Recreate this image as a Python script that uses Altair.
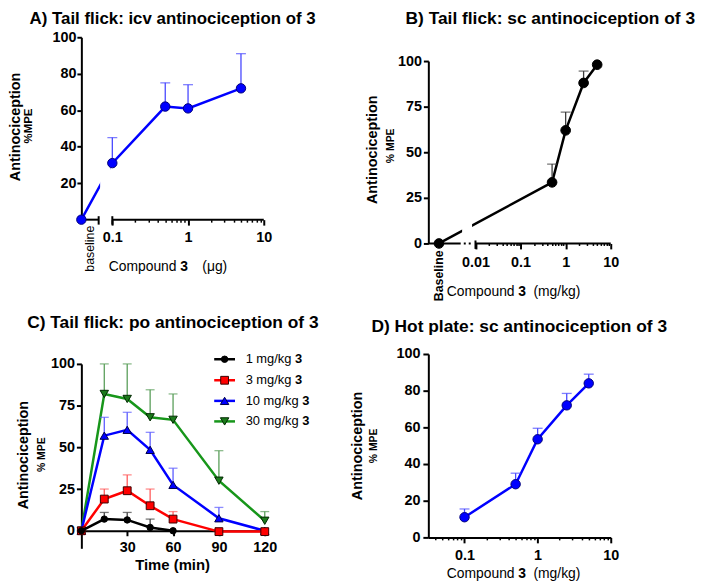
import math
import altair as alt
import pandas as pd

FONT = "Liberation Sans"

# ---------------- data ----------------
# A) Tail flick, icv (dose in µg; None = baseline)
A_DOSE = [None, 0.1, 0.5, 1, 5]
A_MEAN = [0, 31, 62, 61, 72]
A_SEM = [0, 14, 13, 13, 19]

# B) Tail flick, sc (dose in mg/kg; None = baseline)
B_DOSE = [None, 0.5, 1, 2.5, 5]
B_MEAN = [0, 33.5, 62, 88, 98]
B_SEM = [0, 10, 10, 6.5, 0]

# C) Tail flick, po, time course (min)
C_TIME = [0, 15, 30, 45, 60, 90, 120]
C_SERIES = ["1 mg/kg", "3 mg/kg", "10 mg/kg", "30 mg/kg"]
C_MEAN_1 = [0, 7, 6.5, 2, 0, None, None]
C_SEM_1 = [0, 4, 4.5, 5, 0, None, None]
C_MEAN_3 = [0, 19, 24, 15, 7, -0.5, -0.5]
C_SEM_3 = [0, 6, 9.5, 10, 4.5, 0, 0]
C_MEAN_10 = [0, 57, 60.5, 48.5, 27.5, 7.5, 0]
C_SEM_10 = [0, 11, 10.5, 10.5, 10, 6.5, 0]
C_MEAN_30 = [0, 82, 79, 68, 66.5, 30, 6]
C_SEM_30 = [0, 18, 21, 16.5, 15.5, 18, 5.5]

# D) Hot plate, sc (mg/kg)
D_DOSE = [0.1, 0.5, 1, 2.5, 5]
D_MEAN = [11, 29, 53.5, 72, 84]
D_SEM = [4.5, 6, 6, 6.5, 5]

# axis tick values / labels
A_Y_TICKS = [20, 40, 60, 80, 100]
B_Y_TICKS = [0, 25, 50, 75, 100]
C_Y_TICKS = [0, 25, 50, 75, 100]
D_Y_TICKS = [0, 20, 40, 60, 80, 100]
A_X_LABELS = [0.1, 1, 10]
B_X_LABELS = [0.01, 0.1, 1, 10]
C_X_TICKS = [30, 60, 90, 120]
D_X_LABELS = [0.1, 1, 10]

# ---------------- layout / style constants ----------------
W = 184
A_H = 184
B_H, B_TOP = 208, 24
C_W, C_H, C_TOP = 185, 196, 10
D_H = 185
ROW_GAP, COL_GAP = 111.5, 165
TOP_PAD = 26.5           # room above row 1 for the panel titles

A_XMIN, A_BREAK, A_GAP = 0.039, 0.066, (0.069, 0.095)
B_XMIN, B_BASE, B_SOLID_END, B_DOTS, B_GAP = 0.0009, 0.00155, 0.0047, (0.0055, 0.0080), (0.00505, 0.0084)
C_YMIN = -10.5
D_XMIN = 0.032

BLUE, NAVY, EB_BLUE = "#0000ff", "#00007a", "#4848ff"

C_STYLE = {
    "1 mg/kg": dict(line="#000000", eb="#404040", fill="#000000", stroke="#000000", shape="circle", size=42),
    "3 mg/kg": dict(line="#ff0000", eb="#ff5c5c", fill="#ff0000", stroke="#3a0000", shape="square", size=62),
    "10 mg/kg": dict(line="#0000ff", eb="#5c5cff", fill="#0000ff", stroke="#00004a", shape="triangle-up", size=72),
    "30 mg/kg": dict(line="#17961a", eb="#5a9e5a", fill="#1b7a1b", stroke="#002800", shape="triangle-down", size=72),
}
C_MEANS = {"1 mg/kg": C_MEAN_1, "3 mg/kg": C_MEAN_3, "10 mg/kg": C_MEAN_10, "30 mg/kg": C_MEAN_30}
C_SEMS = {"1 mg/kg": C_SEM_1, "3 mg/kg": C_SEM_3, "10 mg/kg": C_SEM_10, "30 mg/kg": C_SEM_30}
LEGEND_Y = [5.3, 26.5, 47.3, 68]

ONE = pd.DataFrame({"k": [0]})
ARIAL = {"0": .556, "1": .556, "2": .556, "3": .556, " ": .278, "m": .833, "g": .556, "/": .278, "k": .5}


def text_w(s, size):
    return sum(ARIAL.get(c, 0.55) for c in s) * size


def txt(s, x, y, size, bold=False, angle=0, align="center", baseline="middle"):
    return alt.Chart(ONE).mark_text(
        text=s, font=FONT, fontSize=size, fontWeight="bold" if bold else "normal",
        angle=angle, align=align, baseline=baseline, color="black",
    ).encode(x=alt.value(x), y=alt.value(y))


def decade_ticks(e0, e1):
    vals = []
    for e in range(e0, e1):
        for m in range(1, 10):
            vals.append(round(m * 10.0 ** e, 8))
    vals.append(round(10.0 ** e1, 8))
    return vals


def y_axis(values, tick=5, pad=2):
    return alt.Axis(values=values, domain=True, domainColor="black", domainWidth=2,
                    ticks=True, tickColor="black", tickWidth=2, tickSize=tick,
                    labelFont=FONT, labelFontSize=14.5, labelFontWeight="bold", labelColor="black",
                    labelPadding=pad, labelOverlap=False, grid=False, title=None)


def x_log_axis(values, majors, pad, show_domain=True, major=5.5, minor=2.5):
    expr = " : ".join(f"datum.value == {v} ? '{v:g}'" for v in majors) + " : ''"
    test = "indexof([" + ",".join(str(v) for v in majors) + "], datum.value) >= 0"
    return alt.Axis(values=values, labelExpr=expr, domain=show_domain, domainColor="black", domainWidth=2,
                    ticks=True, tickColor="black",
                    tickSize={"condition": {"test": test, "value": major}, "value": minor},
                    tickWidth={"condition": {"test": test, "value": 2}, "value": 1.5},
                    labelFont=FONT, labelFontSize=14.5, labelFontWeight="bold", labelColor="black",
                    labelPadding=pad, labelOverlap=False, labelFlush=False, labelBound=False,
                    grid=False, title=None)


class Panel:
    """Shared scales and axes of one panel; every layer uses the same definitions."""

    def __init__(self, xs, ys, ax, ay):
        self.xs, self.ys, self.ax, self.ay = xs, ys, ax, ay

    def X(self, f):
        return alt.X(f"{f}:Q", scale=self.xs, axis=self.ax)

    def Y(self, f):
        return alt.Y(f"{f}:Q", scale=self.ys, axis=self.ay)

    def line(self, df, color, width=2.5):
        return alt.Chart(df).mark_line(color=color, strokeWidth=width).encode(
            x=self.X("x"), y=self.Y("mean"))

    def errs(self, df, color, width=1.3, cap=10):
        d = df[df["sem"] > 0]
        rule = alt.Chart(d).mark_rule(color=color, strokeWidth=width).encode(
            x=self.X("x"), y=self.Y("mean"), y2="upper:Q")
        capm = alt.Chart(d).mark_tick(orient="horizontal", size=cap, thickness=width, color=color).encode(
            x=self.X("x"), y=self.Y("upper"))
        return [rule, capm]

    def pts(self, df, shape, size, fill, stroke):
        return alt.Chart(df).mark_point(shape=shape, size=size, filled=True, fill=fill, stroke=stroke,
                                        strokeWidth=1, opacity=1).encode(x=self.X("x"), y=self.Y("mean"))

    def hrules(self, x0, x1, ypix, dash=None, width=2):
        d = pd.DataFrame({"x0": x0, "x1": x1})
        kw = dict(color="black", strokeWidth=width)
        if dash:
            kw["strokeDash"] = dash
        return alt.Chart(d).mark_rule(**kw).encode(x=self.X("x0"), x2="x1:Q", y=alt.value(ypix))

    def vticks(self, xs, y0, y1):
        return alt.Chart(pd.DataFrame({"x": xs})).mark_rule(color="black", strokeWidth=2).encode(
            x=self.X("x"), y=alt.value(y0), y2=alt.value(y1))

    def mask(self, gap, y1):
        return alt.Chart(pd.DataFrame({"x0": [gap[0]], "x1": [gap[1]]})).mark_rect(color="white").encode(
            x=self.X("x0"), x2="x1:Q", y=alt.value(0), y2=alt.value(y1))

    def vlabel(self, x, t, y, bold):
        return alt.Chart(pd.DataFrame({"x": [x], "t": [t]})).mark_text(
            font=FONT, fontSize=12.5, fontWeight="bold" if bold else "normal", angle=270,
            align="right", baseline="middle", color="black").encode(
            x=self.X("x"), y=alt.value(y), text="t:N")


def xtitle(unit, y, right, three, left_unit, size=14):
    return [txt("Compound", right, y, size, align="right"),
            txt("3", three, y, size, bold=True, align="left"),
            txt(unit, left_unit, y, size, align="left")]


def frame(mean, sem, doses, base):
    d = pd.DataFrame({"x": [base if v is None else v for v in doses], "mean": mean, "sem": sem})
    d["upper"] = d["mean"] + d["sem"]
    return d


# ---------------- panel A ----------------
dfA = frame(A_MEAN, A_SEM, A_DOSE, A_XMIN)
PA = Panel(alt.Scale(type="log", domain=[A_XMIN, 10], nice=False, range=[0, W]),
           alt.Scale(domain=[0, 100], nice=False, zero=False),
           x_log_axis(decade_ticks(-1, 1), A_X_LABELS, 5.5, show_domain=False),
           y_axis(A_Y_TICKS, tick=4.5, pad=1))

# invisible corner mark fixing the top-left of the whole figure
anchor = alt.Chart(ONE).mark_rule(opacity=0, strokeWidth=1).encode(
    x=alt.value(-72.5), x2=alt.value(-72.5), y=alt.value(-TOP_PAD + 0.5), y2=alt.value(-TOP_PAD + 2))

pA = alt.layer(
    anchor, PA.line(dfA, BLUE), PA.mask(A_GAP, A_H - 4),
    PA.hrules([A_XMIN, 0.1], [A_BREAK, 10], A_H), PA.vticks([A_BREAK, 0.1], A_H - 3.5, A_H + 5),
    *PA.errs(dfA, EB_BLUE), PA.pts(dfA, "circle", 90, BLUE, NAVY),
    PA.vlabel(math.sqrt(A_XMIN * A_BREAK), "baseline", A_H + 6, False),
    txt("A) Tail flick: icv antinociception of 3", 92, -18, 17, bold=True),
    txt("Antinociception", -65.5, 90.5, 14.5, bold=True, angle=270),
    txt("%MPE", -52.5, 89.5, 11.5, bold=True, angle=270),
    *xtitle("(\u03bcg)", 231.5, 96, 99.7, 122),
).properties(width=W, height=A_H)

# ---------------- panel B ----------------
dfB = frame(B_MEAN, B_SEM, B_DOSE, B_BASE)
PB = Panel(alt.Scale(type="log", domain=[B_XMIN, 10], nice=False, range=[0, W]),
           alt.Scale(domain=[0, 100], nice=False, zero=False, range=[B_H, B_TOP]),
           x_log_axis(decade_ticks(-2, 1), B_X_LABELS, 6.5, show_domain=False, major=5.5, minor=2),
           y_axis(B_Y_TICKS, tick=5, pad=2))

pB = alt.layer(
    PB.line(dfB, "black"), PB.mask(B_GAP, B_H - 4),
    PB.hrules([B_XMIN, 0.01], [B_SOLID_END, 10], B_H), PB.hrules([B_DOTS[0]], [B_DOTS[1]], B_H, dash=[2, 3]),
    PB.vticks([0.01], B_H - 3, B_H + 5.5),
    *PB.errs(dfB, "#3c3c3c"), PB.pts(dfB, "circle", 95, "black", "black"),
    PB.vlabel(B_BASE, "Baseline", B_H + 7, True),
    txt("B) Tail flick: sc antinociception of 3", -23, -18, 17.5, bold=True, align="left"),
    txt("Antinociception", -56, 113.5, 14.5, bold=True, angle=270),
    txt("% MPE", -38, 109.5, 10.5, bold=True, angle=270),
    *xtitle("(mg/kg)", 257.2, 87, 90.7, 106),
).properties(width=W, height=B_H)

# ---------------- panel C ----------------
zero_px = C_TOP + (C_H - C_TOP) * 100 / (100 - C_YMIN)
PC = Panel(alt.Scale(domain=[0, 120], nice=False, zero=False, range=[0, C_W]),
           alt.Scale(domain=[C_YMIN, 100], nice=False, zero=False, range=[C_H, C_TOP]),
           alt.Axis(values=C_X_TICKS, offset=zero_px - C_H, domain=True, domainColor="black", domainWidth=2,
                    ticks=True, tickColor="black", tickWidth=2, tickSize=5,
                    labelFont=FONT, labelFontSize=14.5, labelFontWeight="bold", labelColor="black",
                    labelPadding=4.7, labelOverlap=False, labelFlush=False, grid=False, title=None),
           y_axis(C_Y_TICKS, tick=5, pad=2))

layersC = []
for s in C_SERIES[::-1]:
    st = C_STYLE[s]
    d = pd.DataFrame({"x": C_TIME, "mean": C_MEANS[s], "sem": C_SEMS[s]}).dropna()
    d["upper"] = d["mean"] + d["sem"]
    layersC.append(PC.line(d, st["line"]))
    layersC += PC.errs(d, st["eb"], width=1.3, cap=9)
    layersC.append(PC.pts(d, st["shape"], st["size"], st["fill"], st["stroke"]))

legendC = []
for s, ly in zip(C_SERIES, LEGEND_Y):
    st = C_STYLE[s]
    legendC.append(alt.Chart(ONE).mark_rule(color=st["line"], strokeWidth=2.5).encode(
        x=alt.value(134), x2=alt.value(155), y=alt.value(ly)))
    legendC.append(alt.Chart(ONE).mark_point(shape=st["shape"], size=st["size"], filled=True, fill=st["fill"],
                                             stroke=st["stroke"], strokeWidth=1, opacity=1).encode(
        x=alt.value(144.5), y=alt.value(ly)))
    legendC.append(txt(s, 165.7, ly, 13, align="left"))
    legendC.append(txt("3", 165.7 + text_w(s + " ", 13), ly, 13, bold=True, align="left"))

pC = alt.layer(
    *layersC, *legendC,
    txt("C) Tail flick: po antinociception of 3", 92.3, -31.3, 17.5, bold=True),
    txt("Antinociception", -57.7, 102, 14.5, bold=True, angle=270),
    txt("% MPE", -39.3, 101.6, 10.5, bold=True, angle=270),
    txt("Time (min)", 92, 212.7, 15, bold=True),
).properties(width=C_W, height=C_H)

# ---------------- panel D ----------------
dfD = frame(D_MEAN, D_SEM, D_DOSE, None)
d_ticks = [round(m * 0.01, 8) for m in range(4, 10)] + decade_ticks(-1, 1)
PD = Panel(alt.Scale(type="log", domain=[D_XMIN, 10], nice=False, range=[0, W]),
           alt.Scale(domain=[0, 100], nice=False, zero=False),
           x_log_axis(d_ticks, D_X_LABELS, 5.6, show_domain=True),
           y_axis(D_Y_TICKS, tick=5.5, pad=3))

pD = alt.layer(
    PD.line(dfD, BLUE), *PD.errs(dfD, EB_BLUE), PD.pts(dfD, "circle", 90, BLUE, NAVY),
    txt("D) Hot plate: sc antinociception of 3", 91.7, -27.3, 17.5, bold=True),
    txt("Antinociception", -71, 92.7, 14.5, bold=True, angle=270),
    txt("% MPE", -55, 92.7, 10.5, bold=True, angle=270),
    *xtitle("(mg/kg)", 222, 87, 90.7, 106),
).properties(width=W, height=D_H)

chart = alt.concat(
    pA, pB, pC, pD, columns=2, spacing={"row": ROW_GAP, "column": COL_GAP},
    bounds="flush", align="all",
).properties(padding=0).configure_view(stroke=None)

chart.save("out.html", embed_options={"renderer": "svg", "actions": False})
